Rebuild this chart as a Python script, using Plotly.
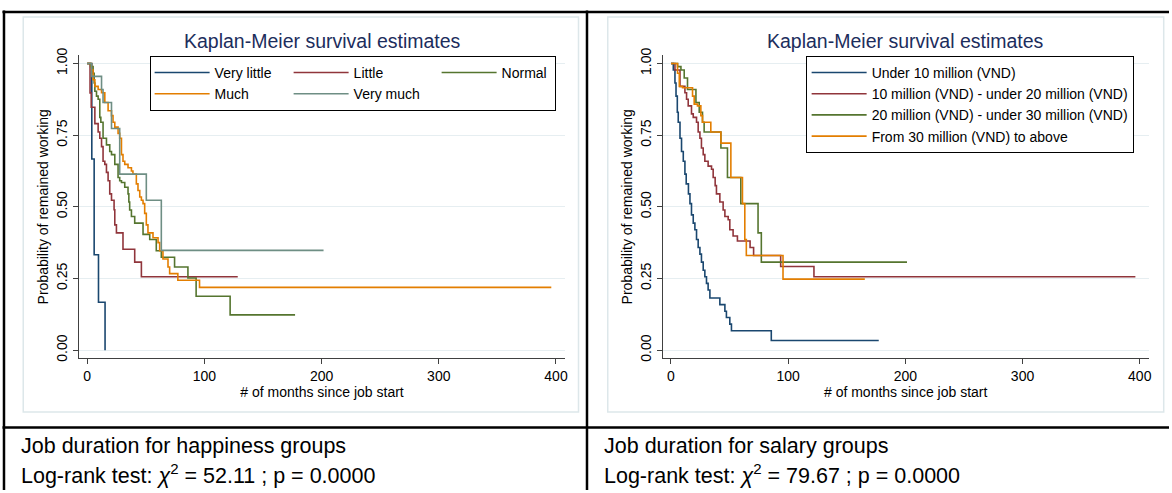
import plotly.graph_objects as go

W, H = 1172, 493

# ---------------- Data: happiness groups (months, survival) ----------------
vlittle_t = [0, 4, 6, 9.7, 15.3]
vlittle_s = [1.0, 0.667, 0.333, 0.167, 0.0]

little_t = [0, 2.5, 3.5, 6.6, 9.4, 10.8, 12.3, 13.6, 15.1, 16.5, 17.9, 19.3, 20.8, 23, 23.6, 25, 30.6, 40.6, 46.3, 128.5]
little_s = [1.0, 0.897, 0.847, 0.79, 0.761, 0.739, 0.71, 0.659, 0.648, 0.62, 0.591, 0.545, 0.523, 0.49, 0.437, 0.409, 0.352, 0.307, 0.256, 0.256]

normal_t = [0, 3, 5.1, 6, 6.6, 8, 9.4, 10.8, 11.7, 13.6, 16.5, 19.3, 20.8, 23.6, 26.4, 27.8, 29.3, 32.1, 34.9, 35.6, 36.3, 37.8, 40.6, 47.7, 53.4, 59, 63.3, 74.6, 86, 93, 122, 177.4]
normal_s = [1.0, 0.989, 0.966, 0.932, 0.903, 0.886, 0.875, 0.812, 0.795, 0.739, 0.716, 0.693, 0.682, 0.648, 0.602, 0.591, 0.585, 0.568, 0.545, 0.517, 0.489, 0.466, 0.443, 0.404, 0.386, 0.347, 0.324, 0.290, 0.252, 0.188, 0.123, 0.123]

much_t = [0, 3.7, 5.1, 6.6, 9.4, 12.3, 15.1, 17.9, 20.8, 22.1, 23.6, 26.4, 27.8, 29.3, 30.6, 32.1, 34.9, 37.8, 39.1, 42, 43.4, 44.9, 46.3, 47.7, 49.1, 50.5, 51.9, 56.2, 60.5, 61.9, 64.7, 69, 70.4, 77.4, 95.9, 396]
much_s = [1.0, 0.977, 0.943, 0.92, 0.909, 0.898, 0.864, 0.835, 0.818, 0.795, 0.778, 0.756, 0.739, 0.682, 0.659, 0.648, 0.636, 0.625, 0.614, 0.58, 0.557, 0.534, 0.523, 0.511, 0.477, 0.437, 0.409, 0.392, 0.375, 0.347, 0.318, 0.29, 0.267, 0.244, 0.219, 0.219]

vmuch_t = [0, 3.7, 12.3, 13.6, 20.8, 27.8, 50.5, 63.3, 201.7]
vmuch_s = [1.0, 0.955, 0.909, 0.864, 0.773, 0.614, 0.523, 0.348, 0.348]

# ---------------- Data: salary groups ----------------
u10_t = [0, 2.0, 3.4, 4.3, 5.4, 6.2, 7.7, 9.0, 10.5, 11.9, 13, 14.9, 16.2, 17.5, 19.0, 20.4, 21.8, 23.2, 24.7, 26.0, 27.5, 28.9, 30.3, 31.7, 33.2, 41.7, 46, 47.3, 50.2, 51.6, 85.6, 177.3]
u10_s = [1.0, 0.977, 0.932, 0.886, 0.83, 0.795, 0.739, 0.693, 0.659, 0.614, 0.58, 0.545, 0.511, 0.472, 0.443, 0.42, 0.386, 0.358, 0.335, 0.307, 0.279, 0.256, 0.233, 0.21, 0.182, 0.159, 0.136, 0.114, 0.091, 0.068, 0.034, 0.034]

m10_20_t = [0, 3.4, 7.7, 11.9, 13.3, 14.7, 17.5, 19, 21.8, 23.2, 24.7, 26, 27.5, 28.9, 31.7, 34.6, 36, 37.7, 38.8, 41.7, 44.5, 46, 48.8, 50.2, 53, 56.7, 67.5, 70.5, 93.6, 122, 396.3]
m10_20_s = [1.0, 0.977, 0.92, 0.898, 0.875, 0.852, 0.824, 0.812, 0.795, 0.761, 0.739, 0.705, 0.682, 0.659, 0.642, 0.631, 0.602, 0.574, 0.545, 0.517, 0.489, 0.466, 0.455, 0.42, 0.398, 0.381, 0.358, 0.33, 0.292, 0.256, 0.256]

m20_30_t = [0, 5.6, 8.5, 11.3, 14.1, 21.3, 24.1, 26.9, 28.3, 42.6, 48.2, 59.6, 74.3, 77.1, 201.4]
m20_30_s = [1.0, 0.989, 0.977, 0.949, 0.909, 0.864, 0.83, 0.795, 0.761, 0.705, 0.602, 0.511, 0.409, 0.307, 0.307]

m30_t = [0, 5.6, 7.1, 9.9, 18.4, 19.8, 22.6, 25.5, 26.9, 34, 42.6, 51.1, 61, 63, 64.3, 95.6, 165.4]
m30_s = [1.0, 0.966, 0.92, 0.915, 0.886, 0.858, 0.852, 0.818, 0.795, 0.761, 0.722, 0.602, 0.511, 0.386, 0.33, 0.248, 0.248]

happy_names = ["Very little", "Little", "Normal", "Much", "Very much"]
salary_names = ["Under 10 million (VND)", "10 million (VND) - under 20 million (VND)",
                "20 million (VND) - under 30 million (VND)", "From 30 million (VND) to above"]
x_ticks = [0, 100, 200, 300, 400]
y_ticks = [0, 0.25, 0.5, 0.75, 1.0]
chi_values = ["52.11", "79.67"]
captions = ["Job duration for happiness groups", "Job duration for salary groups"]

# ---------------- Styling ----------------
NAVY, MAROON, GREEN, ORANGE, TEAL = "#1a476f", "#90353b", "#55752f", "#e37e00", "#6e8e84"
FONT = "Arial, 'Liberation Sans', sans-serif"
AXC = "#404040"
GRID = "#e6eef1"
FS = 14

def px_x(p):
    return p / W

def px_y(p):
    return 1 - p / H

fig = go.Figure()

happy = [(vlittle_t, vlittle_s, NAVY, "g1", 69),
         (little_t, little_s, MAROON, "g2", 78),
         (normal_t, normal_s, GREEN, "g3", 48),
         (much_t, much_s, ORANGE, "g1", 69),
         (vmuch_t, vmuch_s, TEAL, "g2", 78)]
for name, (t, s, c, g, lw) in zip(happy_names, happy):
    fig.add_trace(go.Scatter(x=t, y=s, mode="lines", name=name, line=dict(color=c, width=1.6, shape="hv"),
                             legendgroup=g, legend="legend", legendwidth=lw, xaxis="x", yaxis="y"))

salary = [(u10_t, u10_s, NAVY), (m10_20_t, m10_20_s, MAROON), (m20_30_t, m20_30_s, GREEN), (m30_t, m30_s, ORANGE)]
for name, (t, s, c) in zip(salary_names, salary):
    fig.add_trace(go.Scatter(x=t, y=s, mode="lines", name=name, line=dict(color=c, width=1.6, shape="hv"),
                             legend="legend2", xaxis="x2", yaxis="y2"))

ydom = [px_y(358.3), px_y(48.3)]
yrange = [-0.0283, 1.0287]

def xax(dom, rng, anchor):
    return dict(domain=dom, range=rng, anchor=anchor, tickvals=x_ticks, ticks="outside", ticklen=5, tickwidth=1,
                tickcolor=AXC, showline=True, linecolor=AXC, linewidth=1, showgrid=False, zeroline=False,
                tickfont=dict(family=FONT, size=FS, color="black"),
                title=dict(text="# of months since job start", font=dict(family=FONT, size=FS, color="black"),
                           standoff=0))

def yax(anchor):
    return dict(domain=ydom, range=yrange, tickvals=y_ticks, tickformat=".2f", tickangle=-90, ticks="outside",
                ticklen=5, tickwidth=1, tickcolor=AXC, showline=True, linecolor=AXC, linewidth=1,
                showgrid=True, gridcolor=GRID, gridwidth=1.2, zeroline=False, anchor=anchor,
                tickfont=dict(family=FONT, size=FS, color="black"),
                title=dict(text="Probability of remained working", font=dict(family=FONT, size=FS, color="black"),
                           standoff=2))

shapes = []
# inner graph region boxes
for x0, x1 in [(23.3, 580), (609.3, 1166.7)]:
    shapes.append(dict(type="rect", xref="paper", yref="paper", x0=px_x(x0), x1=px_x(x1),
                       y0=px_y(413.3), y1=px_y(9.3), line=dict(color="#dde7ea", width=1.5), layer="below"))
# table borders
shapes += [
    dict(type="line", xref="paper", yref="paper", x0=px_x(2.5), x1=1, y0=px_y(4), y1=px_y(4), line=dict(color="black", width=2.5)),
    dict(type="line", xref="paper", yref="paper", x0=px_x(4), x1=px_x(4), y0=0, y1=px_y(2.5), line=dict(color="black", width=2.5)),
    dict(type="line", xref="paper", yref="paper", x0=px_x(588.5), x1=px_x(588.5), y0=0, y1=px_y(2.5), line=dict(color="black", width=2.5)),
    dict(type="line", xref="paper", yref="paper", x0=px_x(2.5), x1=1, y0=px_y(429), y1=px_y(429), line=dict(color="black", width=2.5)),
]

annotations = []
for cx, cap, chi, lx in [(322.9, captions[0], chi_values[0], 19), (908, captions[1], chi_values[1], 604)]:
    annotations.append(dict(text="Kaplan-Meier survival estimates", x=px_x(cx), y=px_y(34), xref="paper", yref="paper",
                            xanchor="center", yanchor="middle", showarrow=False,
                            font=dict(family=FONT, size=19.5, color="#1c2d5c")))
    annotations.append(dict(text=cap, x=px_x(lx), y=px_y(448.3), xref="paper", yref="paper",
                            xanchor="left", yanchor="middle", showarrow=False,
                            font=dict(family=FONT, size=21.5, color="black")))
    annotations.append(dict(text="Log-rank test: <i>χ</i><sup>2</sup> = " + chi + " ; p = 0.0000",
                            x=px_x(lx), y=px_y(476.7), xref="paper", yref="paper",
                            xanchor="left", yanchor="middle", showarrow=False,
                            font=dict(family=FONT, size=21.5, color="black")))

fig.update_layout(
    width=W, height=H, margin=dict(l=0, r=0, t=0, b=0),
    paper_bgcolor="white", plot_bgcolor="white",
    xaxis=xax([px_x(79), px_x(566.7)], [-7.1, 407.9], "y"),
    yaxis=yax("x"),
    xaxis2=xax([px_x(664.3), px_x(1151.7)], [-7.15, 407.7], "y2"),
    yaxis2=yax("x2"),
    legend=dict(x=px_x(150), y=px_y(49), xanchor="left", yanchor="top", orientation="h",
                traceorder="grouped", tracegroupgap=0, itemwidth=55, bordercolor="black", borderwidth=1,
                bgcolor="white", font=dict(family=FONT, size=FS, color="black")),
    legend2=dict(x=px_x(807.7), y=px_y(49), xanchor="left", yanchor="top", orientation="v",
                 traceorder="normal", tracegroupgap=0, itemwidth=55, bordercolor="black", borderwidth=1,
                 bgcolor="white", font=dict(family=FONT, size=FS, color="black")),
    shapes=shapes, annotations=annotations, showlegend=True,
)

fig.write_html("out.html")
